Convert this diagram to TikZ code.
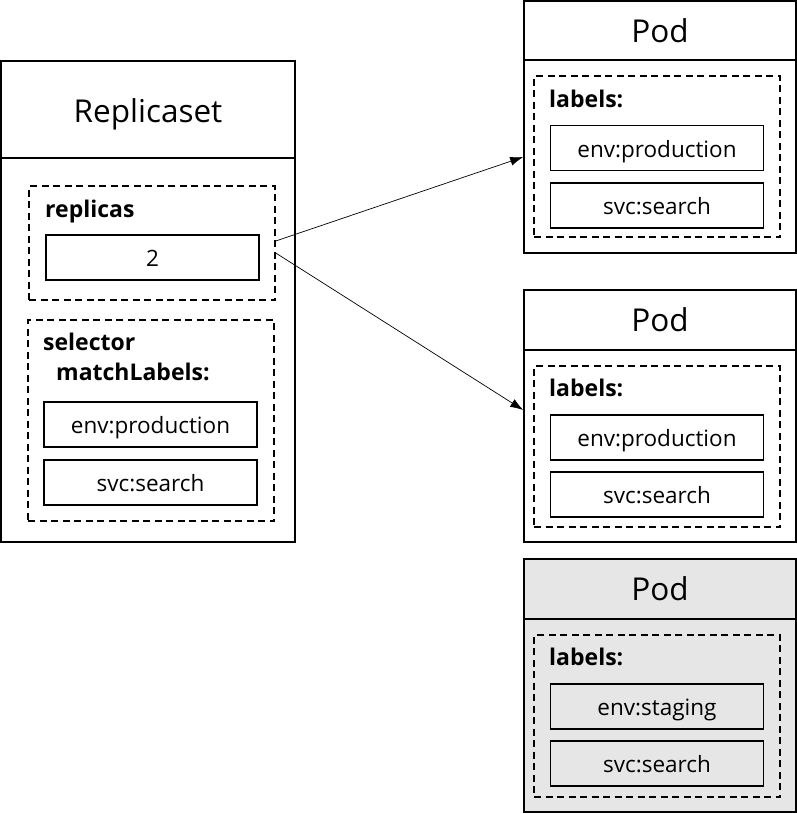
\documentclass[tikz,border=0pt]{standalone}
\usepackage{fontspec}
\setmainfont{Open Sans}
\usetikzlibrary{arrows.meta}
\definecolor{podgray}{HTML}{E6E6E6}
\tikzset{
  frame/.style={draw, line width=1.6pt, inner sep=0pt, minimum width=#1},
  inbox/.style={draw, line width=1.5pt, inner sep=0pt, minimum width=213pt, minimum height=45pt, text height=20pt, text depth=2pt, font=\fontsize{22.5}{26}\selectfont},
  dbox/.style={draw, line width=1.5pt, dash pattern=on 7pt off 4.5pt, inner sep=0pt},
  title/.style={font=\fontsize{31.5}{36}\selectfont, inner sep=0pt, anchor=base},
  lbl/.style={font=\fontsize{23}{30}\selectfont\bfseries, inner sep=0pt, anchor=base west},
  conn/.style={line width=0.7pt, -{Latex[length=13pt,width=9pt]}},
}
\begin{document}
\begin{tikzpicture}[x=1pt,y=-1pt]
\useasboundingbox (0,0) rectangle (797,814);
% Replicaset
\node[frame=294pt, minimum height=481pt] (rs) at (148,301.5) {};
\draw[line width=1.6pt] (rs.west |- 0,158) -- (rs.east |- 0,158);
\node[title] (rstitle) at (148,122) {Replicaset};
\node[dbox, minimum width=246pt, minimum height=114pt] (rep) at (152,243) {};
\node[lbl] (replbl) at (45,217) {replicas};
\node[inbox] (repn) at (152.5,257.5) {2};
\node[dbox, minimum width=246pt, minimum height=201pt] (sel) at (151,420.5) {};
\node[lbl] (sellbl) at (43,350) {selector};
\node[lbl] (sellbl2) at (56,380) {matchLabels:};
\node[inbox] (selenv) at (150.5,424.5) {env:production};
\node[inbox] (selsvc) at (150.5,482.5) {svc:search};
% Pod 1
\node[frame=272pt, minimum height=252pt] (pod1) at (660,127) {};
\draw[line width=1.6pt] (pod1.west |- 0,60) -- (pod1.east |- 0,60);
\node[title] (pod1t) at (660,42) {Pod};
\node[dbox, minimum width=246pt, minimum height=161pt] (pod1d) at (657,156.5) {};
\node[lbl] (pod1l) at (549,107) {labels:};
\node[inbox] (pod1env) at (657,148) {env:production};
\node[inbox] (pod1svc) at (657,205.5) {svc:search};
% Pod 2
\node[frame=272pt, minimum height=252pt] (pod2) at (660,416) {};
\draw[line width=1.6pt] (pod2.west |- 0,350) -- (pod2.east |- 0,350);
\node[title] (pod2t) at (660,331) {Pod};
\node[dbox, minimum width=246pt, minimum height=161pt] (pod2d) at (657,446.5) {};
\node[lbl] (pod2l) at (549,396) {labels:};
\node[inbox] (pod2env) at (657,437.5) {env:production};
\node[inbox] (pod2svc) at (657,494.5) {svc:search};
% Pod 3
\node[frame=272pt, minimum height=253pt, fill=podgray] (pod3) at (660,685.5) {};
\draw[line width=1.6pt] (pod3.west |- 0,619) -- (pod3.east |- 0,619);
\node[title] (pod3t) at (660,600) {Pod};
\node[dbox, minimum width=246pt, minimum height=162pt] (pod3d) at (657,716) {};
\node[lbl] (pod3l) at (549,665) {labels:};
\node[inbox] (pod3env) at (657,706.5) {env:staging};
\node[inbox] (pod3svc) at (657,763.5) {svc:search};
% connectors
\draw[conn] ([yshift=2pt]rep.east) -- ([yshift=-30pt]pod1.west);
\draw[conn] ([yshift=-10pt]rep.east) -- ([yshift=6pt]pod2.west);
\end{tikzpicture}
\end{document}
